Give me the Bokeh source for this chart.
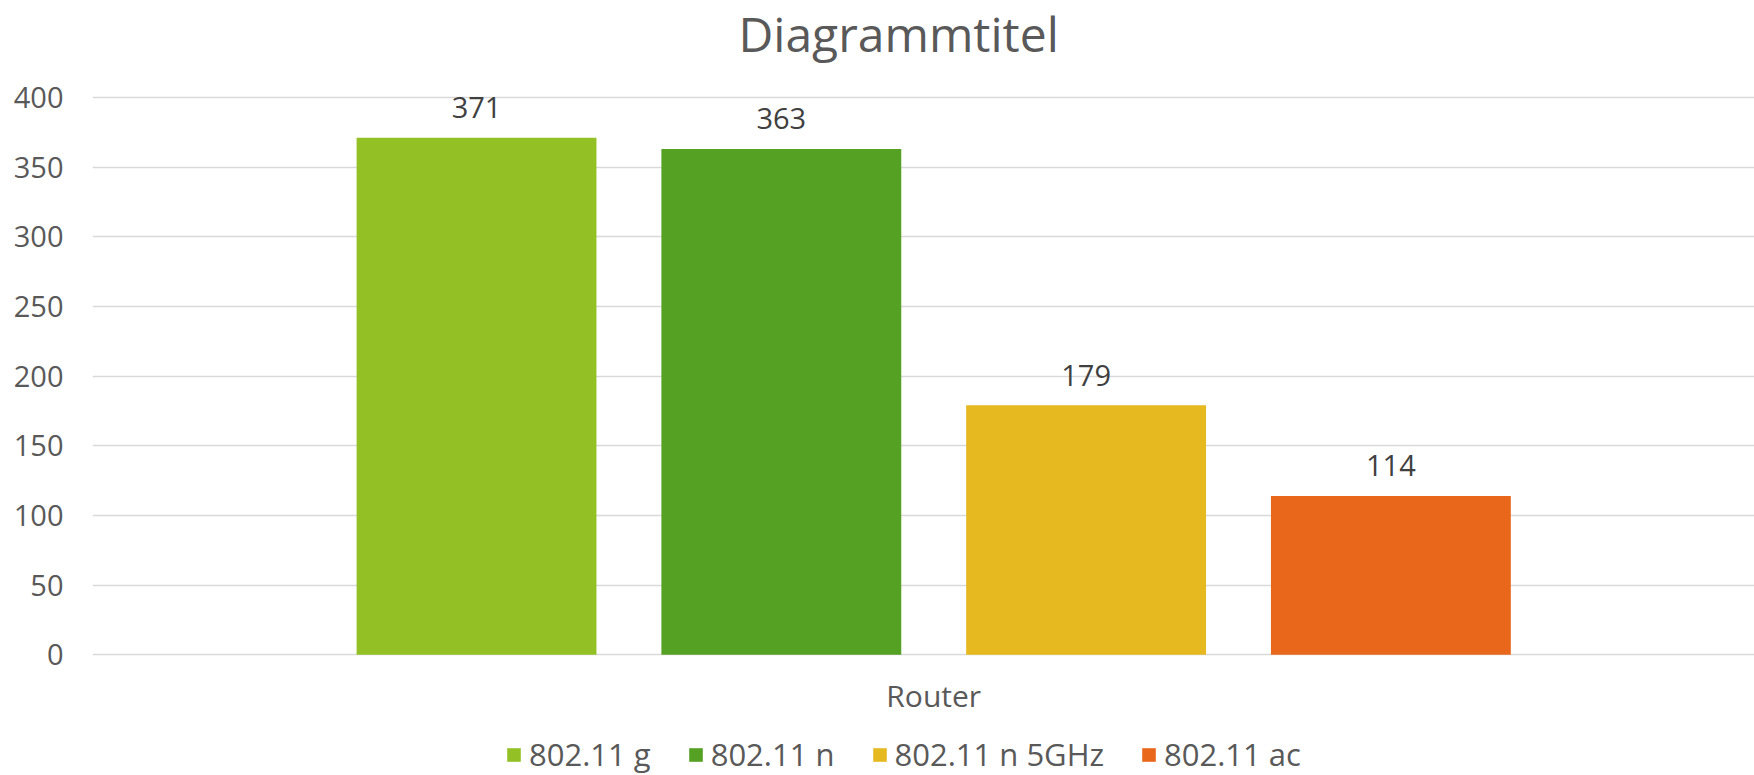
from bokeh.plotting import figure
from bokeh.models import ColumnDataSource, Range1d, FixedTicker, Legend, LegendItem
from bokeh.core.properties import value
from bokeh.embed import file_html
from bokeh.resources import INLINE

title_text = "Diagrammtitel"
category = "Router"
series = ["802.11 g", "802.11 n", "802.11 n 5GHz", "802.11 ac"]
values = [371, 363, 179, 114]
colors = ["#93C125", "#55A123", "#E5B91F", "#E8671A"]
y_ticks = [0, 50, 100, 150, 200, 250, 300, 350, 400]

FONT = "Open Sans"
TXT = "#595959"

idx = list(range(len(series)))
src = ColumnDataSource(dict(x=idx, y=values, label=series, color=colors,
                            txt=[str(v) for v in values]))

# frame runs from just under the title to the bottom edge, so the legend
# under the axis is not clipped; gridlines only span the 0..400 ticks
p = figure(width=1754, height=775, output_backend="svg", toolbar_location=None,
           x_range=Range1d(-1.26, 4.193), y_range=Range1d(-86.7, 421.5),
           min_border_left=92, min_border_right=0, min_border_top=66,
           min_border_bottom=0)

bars = p.vbar(x="x", top="y", width=0.787, source=src, fill_color="color",
              line_color=None)
p.text(x="x", y="y", text="txt", source=src, text_align="center",
       text_baseline="alphabetic", y_offset=-30, text_font=value(FONT),
       text_font_size="29px", text_color="#404040")

# title
p.title.text = title_text
p.title.align = "left"
p.title.offset = 646
p.title.vertical_align = "top"
p.title.standoff = 0
p.title.text_font = FONT
p.title.text_font_size = "48px"
p.title.text_font_style = "normal"
p.title.text_color = TXT

# y axis
p.yaxis.ticker = FixedTicker(ticks=y_ticks)
p.yaxis.axis_line_color = None
p.yaxis.major_tick_line_color = None
p.yaxis.minor_tick_line_color = None
p.yaxis.major_label_standoff = 23
p.yaxis.major_label_text_font = FONT
p.yaxis.major_label_text_font_size = "29px"
p.yaxis.major_label_text_color = TXT

# x axis (single category), drawn at value 0
center = (len(series) - 1) / 2
p.xaxis.fixed_location = 0
p.xaxis.ticker = FixedTicker(ticks=[center])
p.xaxis.major_label_overrides = {center: category}
p.xaxis.axis_line_color = None
p.xaxis.major_tick_line_color = None
p.xaxis.minor_tick_line_color = None
p.xaxis.major_label_standoff = 14
p.xaxis.major_label_text_font = FONT
p.xaxis.major_label_text_font_size = "30px"
p.xaxis.major_label_text_color = TXT

# grid
p.ygrid.ticker = FixedTicker(ticks=y_ticks)
p.ygrid.grid_line_color = "#D9D9D9"
p.ygrid.grid_line_width = 1.5
p.xgrid.visible = False
p.outline_line_color = None

# legend
items = [LegendItem(label=s, renderers=[bars], index=i) for i, s in enumerate(series)]
lg = Legend(items=items, orientation="horizontal", location=(413, 0),
            padding=0, margin=0, spacing=36, glyph_width=17, glyph_height=17,
            label_standoff=7, border_line_color=None, background_fill_alpha=0,
            label_text_font=FONT, label_text_font_size="31px",
            label_text_color=TXT)
p.add_layout(lg)

open("out.html", "w").write(file_html(p, INLINE))
